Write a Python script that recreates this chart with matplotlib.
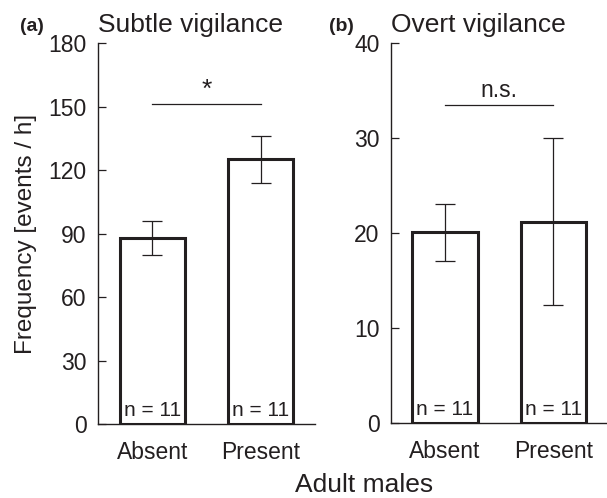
import matplotlib.pyplot as plt

plt.rcParams['font.family'] = ['Liberation Sans', 'DejaVu Sans']

categories = ['Absent', 'Present']
subtle_mean = [88, 125]
subtle_err = [8, 11]
overt_mean = [20.1, 21.2]
overt_err = [3.0, 8.8]
n_labels = ['n = 11', 'n = 11']

ink = '#231f20'

fig = plt.figure(figsize=(6.07, 4.98), dpi=100)
ax_a = fig.add_axes([0.1614, 0.1486, 0.3575, 0.765])
ax_b = fig.add_axes([0.6437, 0.1506, 0.3575, 0.763])


def panel(ax, means, errs, ymax, step, title, letter, sig, sig_y, letter_x, sig_size):
    x = range(len(categories))
    ax.bar(x, means, width=0.6, color='white', edgecolor=ink, linewidth=2.2, zorder=2)
    ax.errorbar(x, means, yerr=errs, fmt='none', ecolor=ink, elinewidth=0.9,
                capsize=7, capthick=0.9, zorder=3)
    for xi, lab in zip(x, n_labels):
        ax.annotate(lab, (xi, 0), xytext=(0, 3), textcoords='offset points',
                    ha='center', va='bottom', fontsize=15, color=ink)
    ax.plot([0, 1], [sig_y, sig_y], color=ink, lw=0.9)
    ax.annotate(sig, (0.5, sig_y), xytext=(0, 2), textcoords='offset points',
                ha='center', va='bottom', fontsize=sig_size, color=ink)
    ax.set_xlim(-0.5, 1.5)
    ax.set_ylim(0, ymax)
    ax.set_yticks(range(0, ymax + 1, step))
    ax.set_xticks(list(x))
    ax.set_xticklabels(categories)
    for s in ['top', 'right']:
        ax.spines[s].set_visible(False)
    for s in ['left', 'bottom']:
        ax.spines[s].set_color(ink)
        ax.spines[s].set_linewidth(1.0)
    ax.tick_params(axis='y', direction='in', length=6, width=0.9, pad=8,
                   labelsize=16.5, colors=ink)
    ax.tick_params(axis='x', length=0, pad=12, labelsize=16.5, colors=ink)
    ax.set_title(title, loc='left', fontsize=19, pad=8, color=ink)
    fig.text(letter_x, 0.946, letter, fontsize=14, fontweight='bold',
             ha='center', va='center', color=ink)


panel(ax_a, subtle_mean, subtle_err, 180, 30, 'Subtle vigilance', '(a)', '*', 151, 0.053, 19)
panel(ax_b, overt_mean, overt_err, 40, 10, 'Overt vigilance', '(b)', 'n.s.', 33.5, 0.563, 16.5)

ax_a.set_ylabel('Frequency [events / h]', fontsize=17.5, labelpad=8, color=ink)
fig.text(0.6, 0.026, 'Adult males', fontsize=19, ha='center', va='center', color=ink)

fig.savefig('out.png', dpi=100)
